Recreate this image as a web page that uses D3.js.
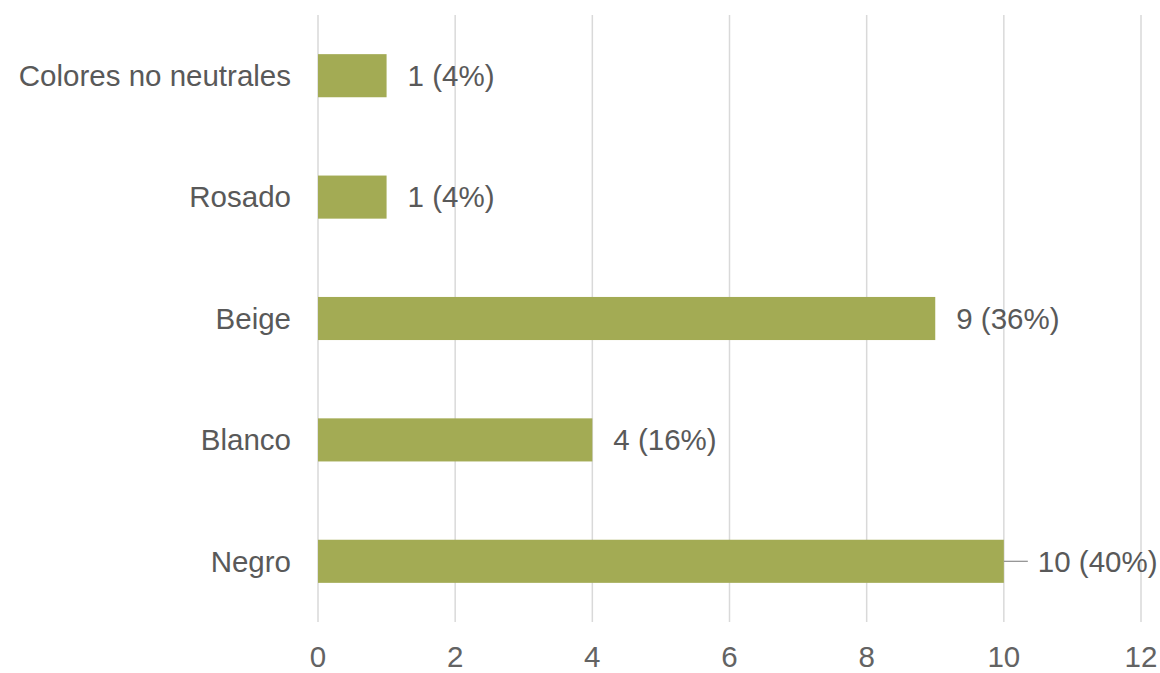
<!DOCTYPE html>
<html>
<head>
<meta charset="utf-8">
<script src="https://cdn.jsdelivr.net/npm/d3@7"></script>
<style>
  body { margin: 0; background: #fff; }
  text { font-family: "Liberation Sans", Arial, sans-serif; fill: #595959; }
</style>
</head>
<body>
<script>
// data
const categories = ["Colores no neutrales", "Rosado", "Beige", "Blanco", "Negro"];
const counts = [1, 1, 9, 4, 10];
const xTicks = [0, 2, 4, 6, 8, 10, 12];

const w = 1160, h = 673;
const plotLeft = 318, plotRight = 1141, plotTop = 15, plotBottom = 622;
const fontSize = "29.5px";
const total = d3.sum(counts);

const svg = d3.select("body").append("svg")
  .attr("width", w)
  .attr("height", h);

const xScale = d3.scaleLinear()
  .domain([0, 12])
  .range([plotLeft, plotRight]);

const yScale = d3.scaleBand()
  .domain(categories)
  .range([plotTop, plotBottom])
  .paddingInner(0.645)
  .paddingOuter(0.3225);

// gridlines
svg.append("g")
  .selectAll("line")
  .data(xTicks)
  .enter()
  .append("line")
    .attr("x1", d => xScale(d))
    .attr("x2", d => xScale(d))
    .attr("y1", plotTop)
    .attr("y2", plotBottom)
    .attr("stroke", "#d9d9d9")
    .attr("stroke-width", 1.5);

// x tick labels
svg.append("g")
  .selectAll("text")
  .data(xTicks)
  .enter()
  .append("text")
    .attr("x", d => xScale(d))
    .attr("y", 667)
    .attr("text-anchor", "middle")
    .style("font-size", fontSize)
    .style("fill", "#636363")
    .text(d => d);

// category labels
svg.append("g")
  .selectAll("text")
  .data(categories)
  .enter()
  .append("text")
    .attr("x", plotLeft - 27)
    .attr("y", d => yScale(d) + yScale.bandwidth() / 2)
    .attr("dy", "0.35em")
    .attr("text-anchor", "end")
    .style("font-size", fontSize)
    .text(d => d);

// bars
svg.append("g")
  .selectAll("rect")
  .data(categories)
  .enter()
  .append("rect")
    .attr("x", xScale(0))
    .attr("y", d => yScale(d))
    .attr("width", (d, i) => xScale(counts[i]) - xScale(0))
    .attr("height", yScale.bandwidth())
    .attr("fill", "#a3ab54");

// value labels
const labels = svg.append("g")
  .selectAll("text")
  .data(categories)
  .enter()
  .append("text")
    .attr("x", (d, i) => xScale(counts[i]) + 21)
    .attr("y", d => yScale(d) + yScale.bandwidth() / 2)
    .attr("dy", "0.35em")
    .style("font-size", fontSize)
    .text((d, i) => `${counts[i]} (${Math.round(counts[i] / total * 100)}%)`);

// labels that would sit too far right get a leader line
labels.each(function(d, i) {
  const len = this.getComputedTextLength();
  const x0 = xScale(counts[i]);
  if (x0 + 21 + len > plotRight) {
    d3.select(this).attr("x", x0 + 34);
    svg.append("line")
      .attr("x1", x0)
      .attr("x2", x0 + 24)
      .attr("y1", yScale(d) + yScale.bandwidth() / 2)
      .attr("y2", yScale(d) + yScale.bandwidth() / 2)
      .attr("stroke", "#8c8c8c")
      .attr("stroke-width", 1.2);
  }
});
</script>
</body>
</html>
